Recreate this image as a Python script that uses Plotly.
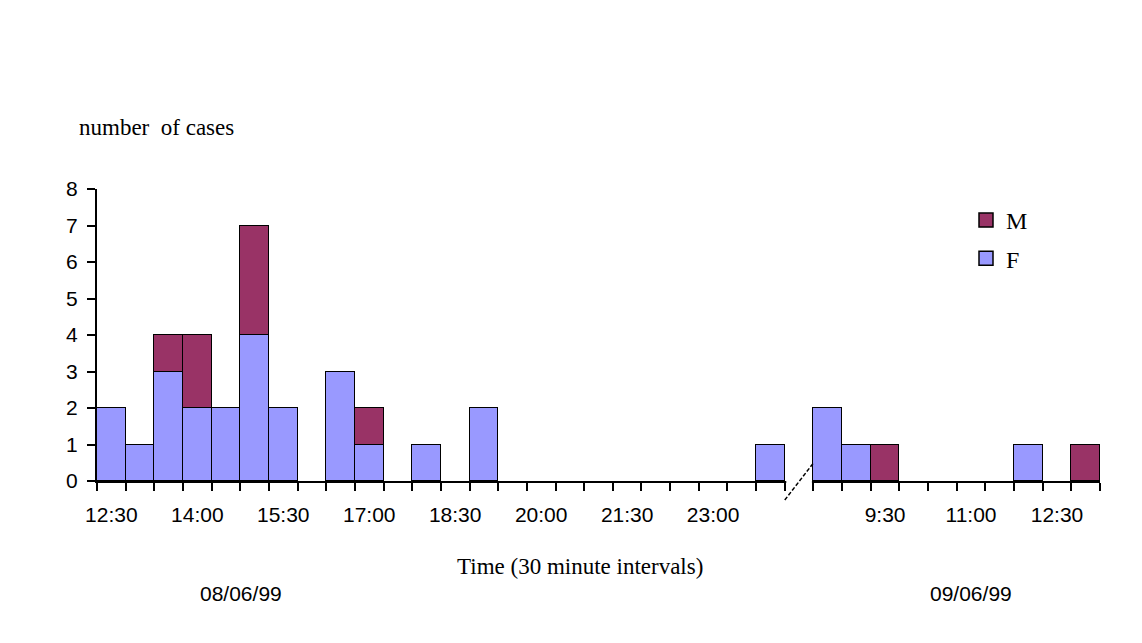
import plotly.graph_objects as go

# ---- data ----
time_labels = ["12:30", "13:00", "13:30", "14:00", "14:30", "15:00", "15:30", "16:00",
               "16:30", "17:00", "17:30", "18:00", "18:30", "19:00", "19:30", "20:00",
               "20:30", "21:00", "21:30", "22:00", "22:30", "23:00", "23:30", "24:00",
               "",
               "8:30", "9:00", "9:30", "10:00", "10:30", "11:00", "11:30", "12:00",
               "12:30", "13:00"]
female = [2, 1, 3, 2, 2, 4, 2, 0, 3, 1, 0, 1, 0, 2, 0, 0, 0, 0, 0, 0, 0, 0, 0, 1,
          0,
          2, 1, 0, 0, 0, 0, 0, 1, 0, 0]
male = [0, 0, 1, 2, 0, 3, 0, 0, 0, 1, 0, 0, 0, 0, 0, 0, 0, 0, 0, 0, 0, 0, 0, 0,
        0,
        0, 0, 1, 0, 0, 0, 0, 0, 0, 1]
label_idx = [0, 3, 6, 9, 12, 15, 18, 21, 27, 30, 33]
break_idx = 24
day_labels = ["08/06/99", "09/06/99"]

# ---- layout geometry ----
W, H = 1142, 643
L, R, T, B = 97, 1100, 189, 481
n = len(time_labels)
xs = list(range(n))

def px(x):
    return (x - L) / (R - L)

def py(y):
    return (B - y) / (B - T)

SERIF = "Liberation Serif, Times New Roman, serif"
SANS = "Liberation Sans, Arial, sans-serif"
F_COL = "#9999FF"
M_COL = "#993366"

fig = go.Figure()
fig.add_trace(go.Bar(x=xs, y=[v if v else None for v in female], name="F",
                     marker=dict(color=F_COL, line=dict(color="black", width=1.5)),
                     showlegend=False))
fig.add_trace(go.Bar(x=xs, y=[v if v else None for v in male], name="M",
                     marker=dict(color=M_COL, line=dict(color="black", width=1.5)),
                     showlegend=False))
# legend entries (larger square swatches like the original)
fig.add_trace(go.Scatter(x=[None], y=[None], mode="markers", name="M",
                         marker=dict(symbol="square", size=14, color=M_COL,
                                     line=dict(color="black", width=1.5)),
                         legendgroup="M", legendrank=1))
fig.add_trace(go.Scatter(x=[None], y=[None], mode="markers", name="F",
                         marker=dict(symbol="square", size=14, color=F_COL,
                                     line=dict(color="black", width=1.5)),
                         legendgroup="F", legendrank=2))

# break in the axis
bx0 = (break_idx) / n
bx1 = (break_idx + 1) / n
shapes = [
    dict(type="rect", xref="paper", yref="paper", x0=bx0 + 0.0015, x1=bx1 - 0.0015,
         y0=-0.012, y1=0.012, fillcolor="white", line=dict(width=0), layer="above"),
    dict(type="line", xref="paper", yref="paper", x0=bx0, x1=bx1,
         y0=py(500), y1=py(463), line=dict(color="black", width=1.5, dash="4px,2px"),
         layer="above"),
]

annotations = [
    dict(text="number  of cases", xref="paper", yref="paper", x=px(77), y=py(128),
         xanchor="left", yanchor="middle", showarrow=False,
         font=dict(family=SERIF, size=23, color="black")),
    dict(text="Time (30 minute intervals)", xref="paper", yref="paper", x=px(580), y=py(566),
         xanchor="center", yanchor="middle", showarrow=False,
         font=dict(family=SERIF, size=23, color="black")),
    dict(text=day_labels[0], xref="paper", yref="paper", x=px(241), y=py(593),
         xanchor="center", yanchor="middle", showarrow=False,
         font=dict(family=SANS, size=21, color="black")),
    dict(text=day_labels[1], xref="paper", yref="paper", x=px(971), y=py(593),
         xanchor="center", yanchor="middle", showarrow=False,
         font=dict(family=SANS, size=21, color="black")),
]

fig.update_layout(
    width=W, height=H,
    margin=dict(l=L, r=W - R, t=T, b=H - B, pad=0),
    paper_bgcolor="white", plot_bgcolor="white",
    barmode="stack", bargap=0,
    showlegend=True,
    legend=dict(x=px(966), y=py(198), xanchor="left", yanchor="top",
                traceorder="grouped", tracegroupgap=4,
                font=dict(family=SERIF, size=24, color="black"),
                bgcolor="rgba(0,0,0,0)", itemwidth=30),
    xaxis=dict(range=[-0.5, n - 0.5], tickmode="array", tickvals=label_idx,
               ticktext=[time_labels[i] for i in label_idx], ticks="",
               showline=True, linecolor="black", linewidth=2, showgrid=False, zeroline=False,
               tickfont=dict(family=SANS, size=21, color="black"), ticklabelstandoff=14,
               minor=dict(ticks="outside", ticklen=8, tickwidth=2, tickcolor="black",
                          tickmode="array", tickvals=[i - 0.5 for i in range(n + 1)],
                          showgrid=False)),
    yaxis=dict(range=[0, 8], tickmode="linear", tick0=0, dtick=1, ticks="outside",
               ticklen=8, tickwidth=2, tickcolor="black", ticklabelstandoff=5,
               showline=True, linecolor="black", linewidth=2, showgrid=False, zeroline=False,
               tickfont=dict(family=SANS, size=21, color="black")),
    shapes=shapes,
    annotations=annotations,
)

fig.write_html("out.html")
